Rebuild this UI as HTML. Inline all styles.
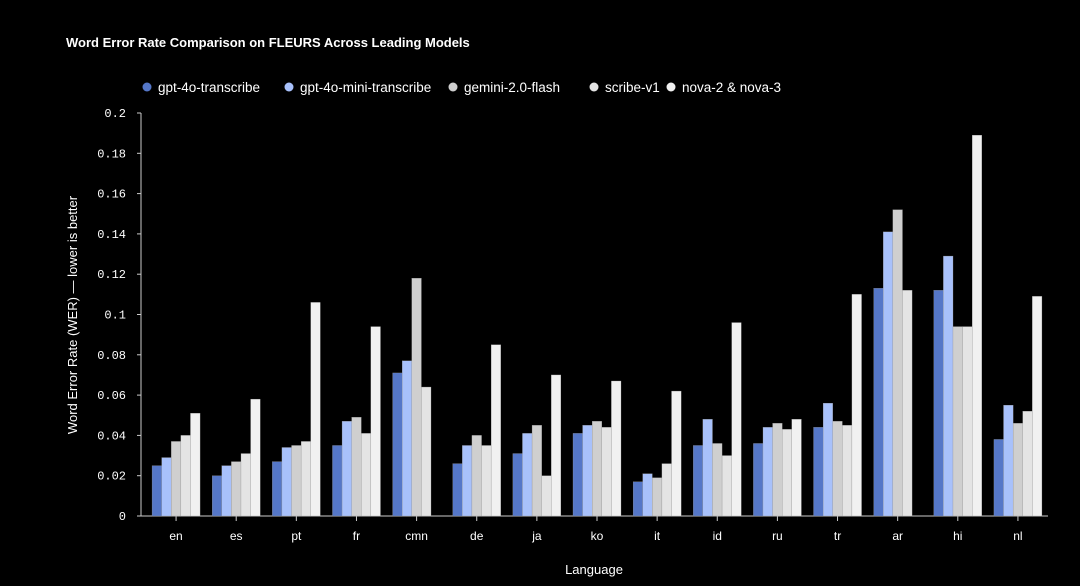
<!DOCTYPE html>
<html><head><meta charset="utf-8"><style>
html,body{margin:0;padding:0;background:#000;}
svg{display:block;font-family:"Liberation Sans",sans-serif;}
</style></head><body>
<svg id="chart" width="1080" height="586" viewBox="0 0 1080 586">
<text x="66" y="47" fill="#fff" font-size="13" font-weight="bold">Word Error Rate Comparison on FLEURS Across Leading Models</text>
<g id="legend"></g>
<g id="axes"></g>
<g id="bars"></g>
<text x="594" y="574" fill="#fff" font-size="13" text-anchor="middle">Language</text>
<text transform="translate(77,315) rotate(-90)" fill="#fff" font-size="13" text-anchor="middle">Word Error Rate (WER) — lower is better</text>
</svg>
<script>
const categories=["en","es","pt","fr","cmn","de","ja","ko","it","id","ru","tr","ar","hi","nl"];
const seriesNames=["gpt-4o-transcribe","gpt-4o-mini-transcribe","gemini-2.0-flash","scribe-v1","nova-2 & nova-3"];
const gpt4o=[0.025,0.020,0.027,0.035,0.071,0.026,0.031,0.041,0.017,0.035,0.036,0.044,0.113,0.112,0.038];
const gpt4oMini=[0.029,0.025,0.034,0.047,0.077,0.035,0.041,0.045,0.021,0.048,0.044,0.056,0.141,0.129,0.055];
const gemini=[0.037,0.027,0.035,0.049,0.118,0.040,0.045,0.047,0.019,0.036,0.046,0.047,0.152,0.094,0.046];
const scribe=[0.040,0.031,0.037,0.041,0.064,0.035,0.020,0.044,0.026,0.030,0.043,0.045,0.112,0.094,0.052];
const nova=[0.051,0.058,0.106,0.094,null,0.085,0.070,0.067,0.062,0.096,0.048,0.110,null,0.189,0.109];
const yTicks=[0,0.02,0.04,0.06,0.08,0.1,0.12,0.14,0.16,0.18,0.2];
const yTickLabels=["0","0.02","0.04","0.06","0.08","0.1","0.12","0.14","0.16","0.18","0.2"];
const series=[gpt4o,gpt4oMini,gemini,scribe,nova];
const colors=["#5577c8","#a8c1fb","#cfcfcf","#e4e4e4","#f1f1f1"];
const NS="http://www.w3.org/2000/svg";
const X0=146,X1=1048,Y0=516,Y1=113;
const band=(X1-X0)/categories.length;
function xc(i){return X0+band*(i+0.5);}
function y(v){return Y0-(v/0.2)*(Y0-Y1);}
function mk(t,a,p){const e=document.createElementNS(NS,t);for(const k in a)e.setAttribute(k,a[k]);p.appendChild(e);return e;}
const axes=document.getElementById('axes');
const l1=mk('line',{x1:141,y1:Y0,x2:X1,y2:Y0,stroke:'#ccc','stroke-width':1},axes);


const l2=mk('line',{x1:141,y1:Y1,x2:141,y2:Y0,stroke:'#ccc','stroke-width':1},axes);


yTicks.forEach((v,i)=>{
 const t=mk('text',{x:126,y:y(v)+4,fill:'#fff','font-size':12,'text-anchor':'end','font-family':'"Liberation Mono",monospace'},axes);
 t.textContent=yTickLabels[i];
 
 
 const tk=mk('line',{x1:137,x2:141,y1:y(v),y2:y(v),stroke:'#ccc'},axes);
 
 
});
const bars=document.getElementById('bars');
const bw=9.6;
categories.forEach((c,i)=>{
 const cx=xc(i);
 const tk=mk('line',{x1:cx,x2:cx,y1:Y0,y2:Y0+5,stroke:'#ccc'},axes);
 
 
 const t=mk('text',{x:cx,y:Y0+24,fill:'#fff','font-size':12,'text-anchor':'middle'},axes);
 t.textContent=c;
 
 
 series.forEach((s,j)=>{
  const v=s[i]; if(v==null)return;
  const r=mk('rect',{x:cx-2.5*bw+j*bw,y:y(v),width:bw,height:Y0-y(v),fill:colors[j],stroke:'#999','stroke-width':0.3},bars);
  
  
 });
});
const legend=document.getElementById('legend');
const lx=[147,289,453,594,671];
seriesNames.forEach((n,j)=>{
 const ci=mk('circle',{cx:lx[j],cy:87,r:4.5,fill:colors[j]},legend);
 
 
 const t=mk('text',{x:lx[j]+11,y:92,fill:'#fff','font-size':13.5},legend);
 t.textContent=n;
 
 
});
</script>
</body></html>
